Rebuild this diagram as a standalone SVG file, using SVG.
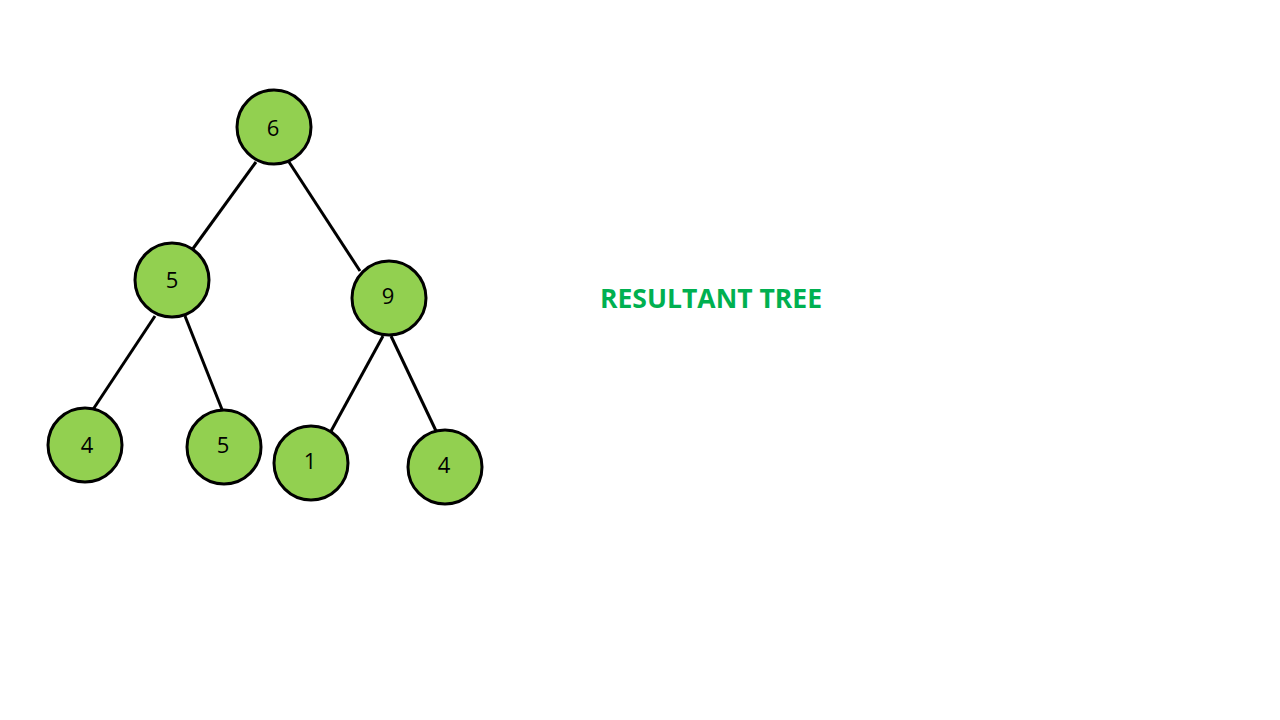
<svg xmlns="http://www.w3.org/2000/svg" width="1280" height="720" viewBox="0 0 1280 720">
<style>
.n circle{fill:#92d050;stroke:#000;stroke-width:3}
.n text{font-family:"Open Sans","Liberation Sans",sans-serif;font-size:22px;fill:#000;text-anchor:middle;dominant-baseline:central}
#edges line{stroke:#000;stroke-width:3}
.title{font-family:"Open Sans","Liberation Sans",sans-serif;font-weight:bold;font-size:26px;fill:#00b050}
</style>
<rect width="1280" height="720" fill="#fff"/>
<g id="edges">
<line x1="256" y1="162" x2="192" y2="250"/>
<line x1="289" y1="162" x2="360" y2="271"/>
<line x1="155" y1="316" x2="92" y2="411"/>
<line x1="185" y1="316" x2="223" y2="412"/>
<line x1="383" y1="336" x2="330" y2="433"/>
<line x1="391" y1="336" x2="437" y2="433"/>
</g>
<g id="n6" class="n"><circle cx="274" cy="127" r="37"/><text x="273" y="127">6</text></g>
<g id="n5a" class="n"><circle cx="172" cy="280" r="37"/><text x="172" y="279">5</text></g>
<g id="n9" class="n"><circle cx="389" cy="298" r="37"/><text x="388" y="295">9</text></g>
<g id="n4a" class="n"><circle cx="85" cy="445" r="37"/><text x="87" y="444">4</text></g>
<g id="n5b" class="n"><circle cx="224" cy="447" r="37"/><text x="223" y="444">5</text></g>
<g id="n1" class="n"><circle cx="311" cy="463" r="37"/><text x="310" y="460">1</text></g>
<g id="n4b" class="n"><circle cx="445" cy="467" r="37"/><text x="444" y="464">4</text></g>
<text class="title" x="600" y="308" textLength="222" lengthAdjust="spacingAndGlyphs">RESULTANT TREE</text>
</svg>
